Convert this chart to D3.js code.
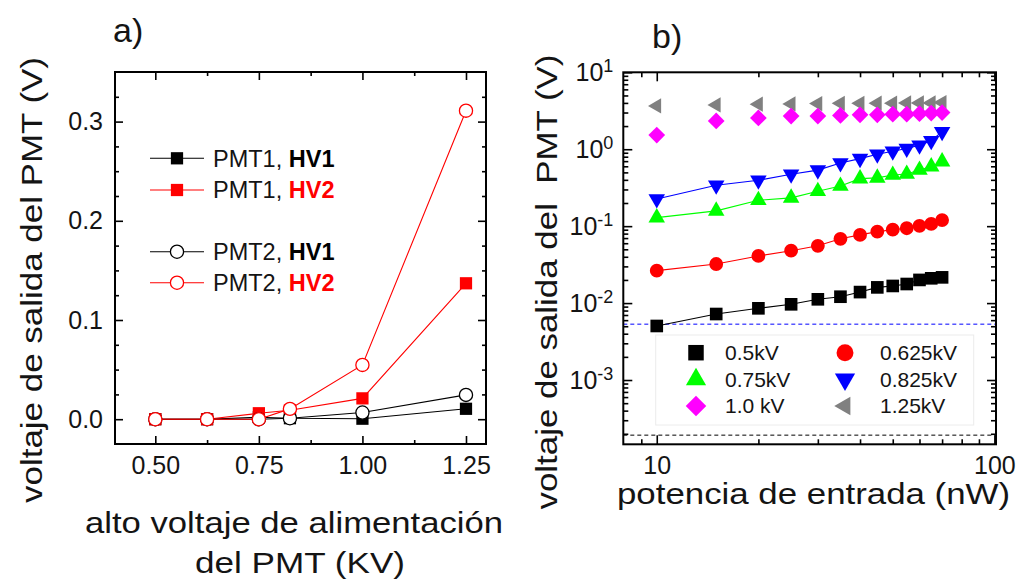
<!DOCTYPE html>
<html><head><meta charset="utf-8">
<script src="https://cdn.jsdelivr.net/npm/d3@7"></script>
<style>
html,body{margin:0;padding:0;background:#fff;}
svg{display:block;font-family:"Liberation Sans",Arial,sans-serif;}
</style></head>
<body>
<svg id="chart" width="1020" height="582"></svg>
<script>
// ---------- data: panel a ----------
const voltsKV = [0.5, 0.625, 0.75, 0.825, 1.0, 1.25];
const pmt1HV1 = [0, 0, 0.002, 0.001, 0.0005, 0.0105];
const pmt1HV2 = [0, 0, 0.006, 0.009, 0.021, 0.137];
const pmt2HV1 = [0, 0, 0, 0.001, 0.0067, 0.0245];
const pmt2HV2 = [0, 0, 0, 0.0104, 0.0547, 0.311];
const leftXTicks = [0.5, 0.75, 1.0, 1.25];
const leftXMinor = [0.625, 0.875, 1.125];
const leftYTicks = [0.0, 0.1, 0.2, 0.3];
const leftYMinor = [0.025, 0.05, 0.075, 0.125, 0.15, 0.175, 0.225, 0.25, 0.275, 0.325];
const leftLegend = [
  {pmt: "PMT1, ", hv: "HV1", hvColor: "#000", color: "#000", marker: "square"},
  {pmt: "PMT1, ", hv: "HV2", hvColor: "#ff0000", color: "#ff0000", marker: "square"},
  {pmt: "PMT2, ", hv: "HV1", hvColor: "#000", color: "#000", marker: "circle"},
  {pmt: "PMT2, ", hv: "HV2", hvColor: "#ff0000", color: "#ff0000", marker: "circle"}
];

// ---------- data: panel b ----------
const powerNW = [10, 15, 20, 25, 30, 35, 40, 45, 50, 55, 60, 65, 70];
const v0500 = [0.00504, 0.00721, 0.00855, 0.00964, 0.0112, 0.0121, 0.0139, 0.016, 0.0167, 0.0177, 0.02, 0.021, 0.0216];
const v0625 = [0.0264, 0.0322, 0.041, 0.048, 0.0555, 0.0685, 0.077, 0.085, 0.09, 0.094, 0.101, 0.107, 0.12];
const v0750 = [0.129, 0.158, 0.217, 0.233, 0.284, 0.333, 0.415, 0.424, 0.463, 0.477, 0.538, 0.594, 0.69];
const v0825 = [0.225, 0.34, 0.395, 0.473, 0.535, 0.663, 0.755, 0.861, 0.94, 1.02, 1.13, 1.29, 1.69];
const v1000 = [1.53, 2.33, 2.55, 2.7, 2.7, 2.75, 2.8, 2.8, 2.85, 2.85, 2.9, 2.95, 3.0];
const v1250 = [3.66, 3.77, 3.85, 3.88, 3.92, 3.95, 3.95, 3.97, 3.97, 4.0, 4.0, 4.0, 4.05];
const noiseLevels = [0.00532, 0.000192];
const rightXTicks = [10, 100];
const rightXMinor = [9, 20, 30, 40, 50, 60, 70, 80, 90];
const rightYTicks = [1e-3, 1e-2, 1e-1, 1e0, 1e1];
const rightYExp = ["-3", "-2", "-1", "0", "1"];

const FONT = '"Liberation Sans",Arial,sans-serif';
const TXT = "#141414";
const svg = d3.select("#chart");

// ================= PANEL A =================
const A = {l: 115, r: 486, t: 72, b: 444};
const xL = d3.scaleLinear().domain([0.4027, 1.2983]).range([A.l, A.r]);
const yL = d3.scaleLinear().domain([-0.025, 0.35]).range([A.b, A.t]);

const ga = svg.append("g");

function styleAxis(g, fs) {
  g.select(".domain").remove();
  g.selectAll(".tick line").attr("stroke", "#000").attr("stroke-width", 1.6);
  g.selectAll(".tick text").attr("fill", TXT).style("font-size", fs + "px").style("font-family", FONT);
}

ga.append("g").attr("transform", `translate(0,${A.b})`)
  .call(d3.axisBottom(xL).tickValues(leftXTicks).tickFormat(d3.format(".2f")).tickSizeInner(-8).tickSizeOuter(0).tickPadding(12))
  .call(g => styleAxis(g, 25));
ga.append("g").attr("transform", `translate(0,${A.b})`)
  .call(d3.axisBottom(xL).tickValues(leftXMinor).tickFormat("").tickSizeInner(-4).tickSizeOuter(0))
  .call(g => styleAxis(g, 25));
ga.append("g").attr("transform", `translate(0,${A.t})`)
  .call(d3.axisTop(xL).tickValues(leftXTicks).tickFormat("").tickSizeInner(-8).tickSizeOuter(0))
  .call(g => styleAxis(g, 25));
ga.append("g").attr("transform", `translate(0,${A.t})`)
  .call(d3.axisTop(xL).tickValues(leftXMinor).tickFormat("").tickSizeInner(-4).tickSizeOuter(0))
  .call(g => styleAxis(g, 25));
ga.append("g").attr("transform", `translate(${A.l},0)`)
  .call(d3.axisLeft(yL).tickValues(leftYTicks).tickFormat(d3.format(".1f")).tickSizeInner(-8).tickSizeOuter(0).tickPadding(12))
  .call(g => styleAxis(g, 25));
ga.append("g").attr("transform", `translate(${A.l},0)`)
  .call(d3.axisLeft(yL).tickValues(leftYMinor).tickFormat("").tickSizeInner(-4).tickSizeOuter(0))
  .call(g => styleAxis(g, 25));
ga.append("g").attr("transform", `translate(${A.r},0)`)
  .call(d3.axisRight(yL).tickValues(leftYTicks).tickFormat("").tickSizeInner(-8).tickSizeOuter(0))
  .call(g => styleAxis(g, 25));
ga.append("g").attr("transform", `translate(${A.r},0)`)
  .call(d3.axisRight(yL).tickValues(leftYMinor).tickFormat("").tickSizeInner(-4).tickSizeOuter(0))
  .call(g => styleAxis(g, 25));

const lineA = d3.line().x(d => xL(d[0])).y(d => yL(d[1]));
const seriesA = [
  {vals: pmt1HV1, color: "#000", marker: "square"},
  {vals: pmt1HV2, color: "#ff0000", marker: "square"},
  {vals: pmt2HV1, color: "#000", marker: "circle"},
  {vals: pmt2HV2, color: "#ff0000", marker: "circle"}
];
seriesA.forEach(s => {
  const pts = voltsKV.map((v, i) => [v, s.vals[i]]);
  ga.append("path").attr("d", lineA(pts)).attr("fill", "none").attr("stroke", s.color).attr("stroke-width", 1.1);
  const sym = s.marker === "square" ? d3.symbol(d3.symbolSquare, 150) : d3.symbol(d3.symbolCircle, 136);
  ga.selectAll(null).data(pts).join("path")
    .attr("d", sym)
    .attr("transform", d => `translate(${xL(d[0])},${yL(d[1])})`)
    .attr("fill", s.marker === "square" ? s.color : "#fff")
    .attr("stroke", s.color).attr("stroke-width", s.marker === "square" ? 0 : 1.3);
});

ga.append("rect").attr("x", A.l).attr("y", A.t).attr("width", A.r - A.l).attr("height", A.b - A.t)
  .attr("fill", "none").attr("stroke", "#000").attr("stroke-width", 2);

// legend a
const legRowsY = [158.3, 190, 251.7, 282.7];
leftLegend.forEach((e, i) => {
  const y = legRowsY[i];
  ga.append("line").attr("x1", 150).attr("x2", 204).attr("y1", y).attr("y2", y).attr("stroke", e.color).attr("stroke-width", 1.1);
  const sym = e.marker === "square" ? d3.symbol(d3.symbolSquare, 150) : d3.symbol(d3.symbolCircle, 136);
  ga.append("path").attr("d", sym).attr("transform", `translate(177,${y})`)
    .attr("fill", e.marker === "square" ? e.color : "#fff").attr("stroke", e.color).attr("stroke-width", e.marker === "square" ? 0 : 1.3);
  const t = ga.append("text").attr("x", 213).attr("y", y + 8.4).attr("fill", TXT).style("font-size", "23.5px");
  t.append("tspan").text(e.pmt);
  t.append("tspan").text(e.hv).attr("font-weight", "bold").attr("fill", e.hvColor);
});

// labels a
svg.append("text").attr("x", 113).attr("y", 42).text("a)").attr("fill", TXT).style("font-size", "34px");
svg.append("text").attr("x", 294).attr("y", 533).attr("text-anchor", "middle").attr("fill", TXT)
  .style("font-size", "30px").attr("textLength", 418).attr("lengthAdjust", "spacingAndGlyphs")
  .text("alto voltaje de alimentación");
svg.append("text").attr("x", 300).attr("y", 573).attr("text-anchor", "middle").attr("fill", TXT)
  .style("font-size", "30px").attr("textLength", 210).attr("lengthAdjust", "spacingAndGlyphs")
  .text("del PMT (KV)");
svg.append("text").attr("transform", "translate(42,280) rotate(-90)").attr("text-anchor", "middle").attr("fill", TXT)
  .style("font-size", "30px").attr("textLength", 446).attr("lengthAdjust", "spacingAndGlyphs")
  .text("voltaje de salida del PMT (V)");

// ================= PANEL B =================
const B = {l: 623.3, r: 996, t: 72.3, b: 444.3};
const xR = d3.scaleLog().domain([7.96, 101.1]).range([B.l, B.r]);
const yR = d3.scaleLog().domain([1.46e-4, 10]).range([B.b, B.t]);
const yMinor = [];
[1e-4, 1e-3, 1e-2, 1e-1, 1].forEach(dec => { for (let k = 2; k <= 9; k++) { const v = k * dec; if (v > 1.46e-4 && v < 10) yMinor.push(v); } });

const gb = svg.append("g");
gb.append("g").attr("transform", `translate(0,${B.b})`)
  .call(d3.axisBottom(xR).tickValues(rightXTicks).tickFormat(d3.format("d")).tickSizeInner(-9).tickSizeOuter(0).tickPadding(12))
  .call(g => styleAxis(g, 25));
gb.append("g").attr("transform", `translate(0,${B.b})`)
  .call(d3.axisBottom(xR).tickValues(rightXMinor).tickFormat("").tickSizeInner(-5).tickSizeOuter(0))
  .call(g => styleAxis(g, 25));
gb.append("g").attr("transform", `translate(0,${B.t})`)
  .call(d3.axisTop(xR).tickValues(rightXTicks).tickFormat("").tickSizeInner(-9).tickSizeOuter(0))
  .call(g => styleAxis(g, 25));
gb.append("g").attr("transform", `translate(0,${B.t})`)
  .call(d3.axisTop(xR).tickValues(rightXMinor).tickFormat("").tickSizeInner(-5).tickSizeOuter(0))
  .call(g => styleAxis(g, 25));
const yAxB = gb.append("g").attr("transform", `translate(${B.l},0)`)
  .call(d3.axisLeft(yR).tickValues(rightYTicks).tickFormat("").tickSizeInner(-9).tickSizeOuter(0).tickPadding(10))
  .call(g => styleAxis(g, 25));
yAxB.selectAll(".tick text").each(function(d, i) {
  const t = d3.select(this);
  t.attr("text-anchor", "end").attr("x", -10);
  t.append("tspan").text("10");
  t.append("tspan").text(rightYExp[i]).style("font-size", "18px").attr("dy", "-9");
});
gb.append("g").attr("transform", `translate(${B.l},0)`)
  .call(d3.axisLeft(yR).tickValues(yMinor).tickFormat("").tickSizeInner(-5).tickSizeOuter(0))
  .call(g => styleAxis(g, 25));
gb.append("g").attr("transform", `translate(${B.r},0)`)
  .call(d3.axisRight(yR).tickValues(rightYTicks).tickFormat("").tickSizeInner(-9).tickSizeOuter(0))
  .call(g => styleAxis(g, 25));
gb.append("g").attr("transform", `translate(${B.r},0)`)
  .call(d3.axisRight(yR).tickValues(yMinor).tickFormat("").tickSizeInner(-5).tickSizeOuter(0))
  .call(g => styleAxis(g, 25));

// dashed reference levels
const dashColors = ["#0000ff", "#000"];
noiseLevels.forEach((lv, i) => {
  gb.append("line").attr("x1", B.l).attr("x2", B.r).attr("y1", yR(lv)).attr("y2", yR(lv))
    .attr("stroke", dashColors[i]).attr("stroke-width", 1).attr("stroke-dasharray", "4,3");
});

const seriesB = [
  {vals: v1250, color: "#808080", sym: d3.symbolTriangle, size: 100, rot: -90, line: false, label: "1.25kV"},
  {vals: v1000, color: "#ff00ff", sym: d3.symbolSquare, size: 140, rot: 45, line: false, label: "1.0 kV"},
  {vals: v0825, color: "#0000ff", sym: d3.symbolTriangle, size: 118, rot: 180, line: true, label: "0.825kV"},
  {vals: v0750, color: "#00ff00", sym: d3.symbolTriangle, size: 118, rot: 0, line: true, label: "0.75kV"},
  {vals: v0625, color: "#ff0000", sym: d3.symbolCircle, size: 150, rot: 0, line: true, label: "0.625kV"},
  {vals: v0500, color: "#000", sym: d3.symbolSquare, size: 160, rot: 0, line: true, label: "0.5kV"}
];
const lineB = d3.line().x(d => xR(d[0])).y(d => yR(d[1]));
seriesB.forEach(s => {
  const pts = powerNW.map((p, i) => [p, s.vals[i]]);
  if (s.line) gb.append("path").attr("d", lineB(pts)).attr("fill", "none").attr("stroke", s.color).attr("stroke-width", 1.1);
});
seriesB.forEach(s => {
  const pts = powerNW.map((p, i) => [p, s.vals[i]]);
  gb.selectAll(null).data(pts).join("path")
    .attr("d", d3.symbol(s.sym, s.size))
    .attr("transform", d => `translate(${xR(d[0])},${yR(d[1])}) rotate(${s.rot})`)
    .attr("fill", s.color);
});

// legend b
gb.append("rect").attr("x", 655.7).attr("y", 335).attr("width", 318).attr("height", 90)
  .attr("fill", "#fff").attr("stroke", "#ececec").attr("stroke-width", 1);
const legB = [
  {s: seriesB[5], col: 0, row: 0}, {s: seriesB[4], col: 1, row: 0},
  {s: seriesB[3], col: 0, row: 1}, {s: seriesB[2], col: 1, row: 1},
  {s: seriesB[1], col: 0, row: 2}, {s: seriesB[0], col: 1, row: 2}
];
const legBMarkX = [696, 845], legBTextX = [725, 880], legBRowY = [352.7, 379.3, 406];
legB.forEach(e => {
  const y = legBRowY[e.row];
  gb.append("path").attr("d", d3.symbol(e.s.sym, e.s.size * 1.5))
    .attr("transform", `translate(${legBMarkX[e.col]},${y}) rotate(${e.s.rot})`).attr("fill", e.s.color);
  gb.append("text").attr("x", legBTextX[e.col]).attr("y", y + 7.3).attr("fill", TXT).style("font-size", "21px").text(e.s.label);
});

gb.append("rect").attr("x", B.l).attr("y", B.t).attr("width", B.r - B.l).attr("height", B.b - B.t)
  .attr("fill", "none").attr("stroke", "#000").attr("stroke-width", 2);

// labels b
svg.append("text").attr("x", 652).attr("y", 48).text("b)").attr("fill", TXT).style("font-size", "34px");
svg.append("text").attr("x", 813.5).attr("y", 504).attr("text-anchor", "middle").attr("fill", TXT)
  .style("font-size", "30px").attr("textLength", 393).attr("lengthAdjust", "spacingAndGlyphs")
  .text("potencia de entrada (nW)");
svg.append("text").attr("transform", "translate(557,282) rotate(-90)").attr("text-anchor", "middle").attr("fill", TXT)
  .style("font-size", "30px").style("white-space", "pre").attr("textLength", 455).attr("lengthAdjust", "spacingAndGlyphs")
  .text("voltaje de salida del  PMT (V)");
</script>
</body></html>
